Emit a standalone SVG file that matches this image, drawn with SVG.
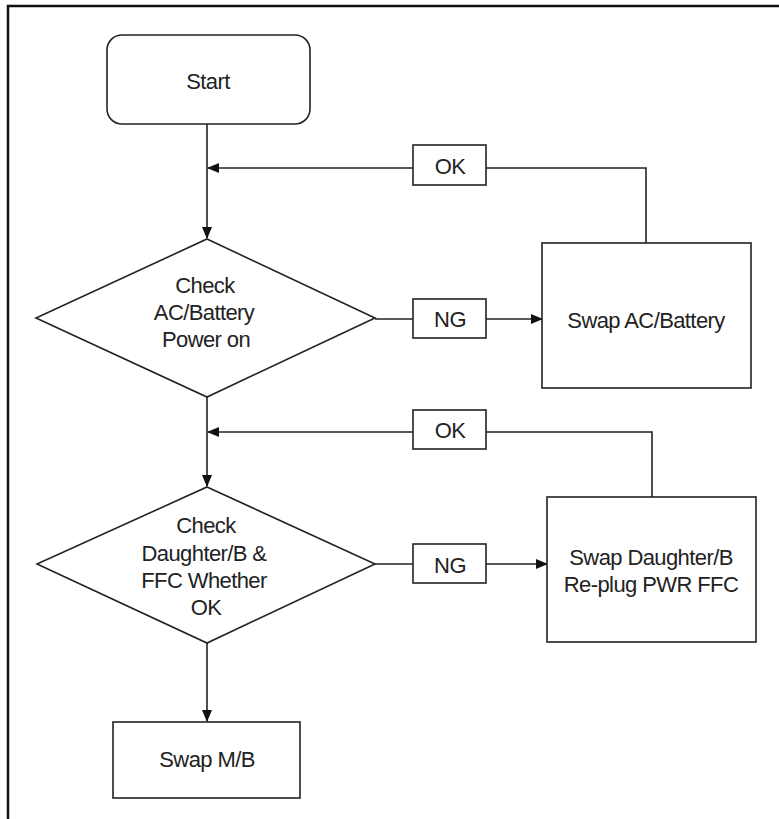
<svg xmlns="http://www.w3.org/2000/svg" width="779" height="819" viewBox="0 0 779 819">
<style>
.s{fill:#fff;stroke:#222;stroke-width:1.6}
.t{font-family:"Liberation Sans",Arial,sans-serif;font-size:22px;letter-spacing:-0.6px;fill:#222;text-anchor:middle}
.c{fill:none;stroke:#222;stroke-width:1.6}
</style>
<defs>
<marker id="ah" markerWidth="12" markerHeight="10" refX="11" refY="5" orient="auto" markerUnits="userSpaceOnUse">
<path d="M0,0 L12,5 L0,10 Z" fill="#111"/>
</marker>
</defs>
<rect width="779" height="819" fill="#fff"/>
<path d="M8,819 V6 H779" fill="none" stroke="#111" stroke-width="2.5"/>
<g id="connectors">
<line class="c" x1="207" y1="124" x2="207" y2="238" marker-end="url(#ah)"/>
<polyline class="c" points="646,243 646,168 486,168"/>
<line class="c" x1="413" y1="168" x2="208" y2="168" marker-end="url(#ah)"/>
<line class="c" x1="375" y1="319" x2="413" y2="319"/>
<line class="c" x1="486" y1="319" x2="542" y2="319" marker-end="url(#ah)"/>
<line class="c" x1="207" y1="397" x2="207" y2="486" marker-end="url(#ah)"/>
<polyline class="c" points="652,497 652,432 486,432"/>
<line class="c" x1="413" y1="432" x2="208" y2="432" marker-end="url(#ah)"/>
<line class="c" x1="375" y1="564" x2="413" y2="564"/>
<line class="c" x1="486" y1="564" x2="547" y2="564" marker-end="url(#ah)"/>
<line class="c" x1="207" y1="643" x2="207" y2="721" marker-end="url(#ah)"/>
</g>
<g id="start">
<rect class="s" x="107" y="35" width="203" height="89" rx="15"/>
<text class="t" x="208" y="89">Start</text>
</g>
<g id="check1">
<polygon class="s" points="207,239 375,318 207,397 36,318"/>
<text class="t" x="205" y="293">Check</text>
<text class="t" x="204" y="320">AC/Battery</text>
<text class="t" x="206" y="347">Power on</text>
</g>
<g id="ok1">
<rect class="s" x="413" y="145" width="73" height="40"/>
<text class="t" x="450" y="174">OK</text>
</g>
<g id="ng1">
<rect class="s" x="413" y="299" width="73" height="39"/>
<text class="t" x="450" y="327">NG</text>
</g>
<g id="swapac">
<rect class="s" x="542" y="243" width="209" height="145"/>
<text class="t" x="646" y="328">Swap AC/Battery</text>
</g>
<g id="check2">
<polygon class="s" points="207,487 375,564 207,643 37,564"/>
<text class="t" x="206" y="533">Check</text>
<text class="t" x="204" y="561">Daughter/B &amp;</text>
<text class="t" x="204" y="588">FFC Whether</text>
<text class="t" x="206" y="615">OK</text>
</g>
<g id="ok2">
<rect class="s" x="413" y="410" width="73" height="39"/>
<text class="t" x="450" y="438">OK</text>
</g>
<g id="ng2">
<rect class="s" x="413" y="544" width="73" height="39"/>
<text class="t" x="450" y="573">NG</text>
</g>
<g id="swapdb">
<rect class="s" x="547" y="497" width="209" height="145"/>
<text class="t" x="651" y="565">Swap Daughter/B</text>
<text class="t" x="651" y="592">Re-plug PWR FFC</text>
</g>
<g id="swapmb">
<rect class="s" x="113" y="722" width="187" height="76"/>
<text class="t" x="207" y="767">Swap M/B</text>
</g>
</svg>
